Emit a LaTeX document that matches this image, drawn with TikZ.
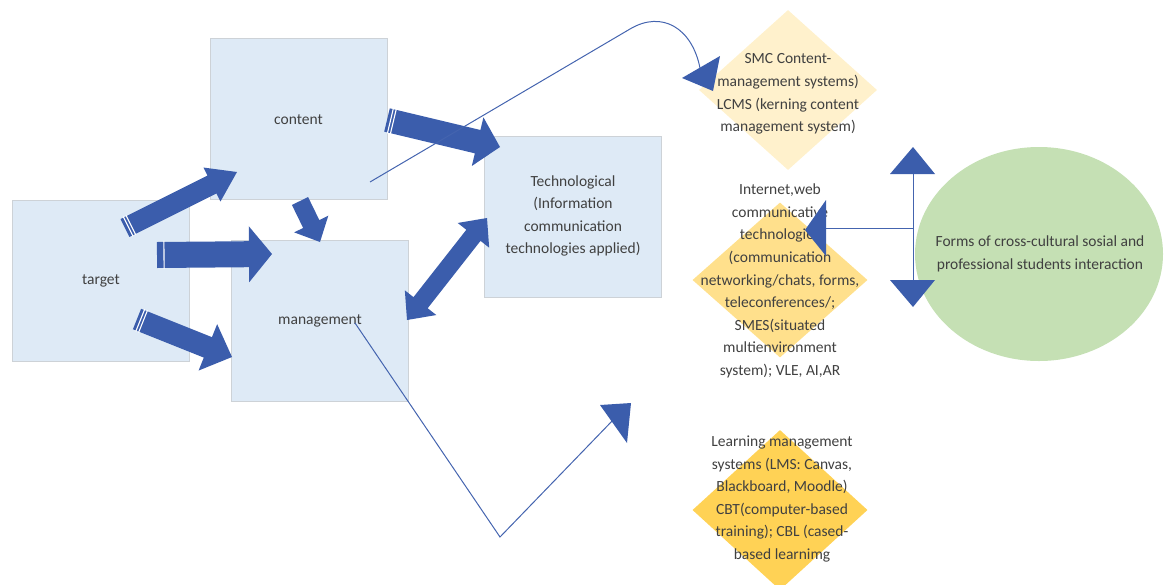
\documentclass[tikz,border=0pt]{standalone}
\usepackage{fontspec}
\setmainfont{Carlito}
\usetikzlibrary{calc,shapes.geometric}
\definecolor{arrowblue}{RGB}{59,93,172}
\definecolor{boxfill}{RGB}{222,234,246}
\definecolor{boxline}{RGB}{205,210,215}
\definecolor{linecol}{RGB}{68,100,175}
\definecolor{diaA}{RGB}{255,241,204}
\definecolor{diaB}{RGB}{255,224,140}
\definecolor{diaC}{RGB}{255,210,85}
\definecolor{ellfill}{RGB}{197,224,180}
\definecolor{txt}{RGB}{64,64,64}
% block arrow: start, end, shaft half width, head half width, head length
\newcommand{\blockarr}[5]{%
  \coordinate (ba-s) at (#1);
  \coordinate (ba-e) at (#2);
  \coordinate (ba-h) at ($(ba-e)!#5!(ba-s)$);
  \fill[arrowblue] ($(ba-s)!#3!90:(ba-e)$) -- ($(ba-h)!#3!-90:(ba-s)$) -- ($(ba-h)!#4!-90:(ba-s)$)
    -- (ba-e) -- ($(ba-h)!#4!90:(ba-s)$) -- ($(ba-h)!#3!90:(ba-s)$) -- ($(ba-s)!#3!-90:(ba-e)$) -- cycle;
}
% stripe across the tail: start, end, half width, distance
\newcommand{\tailstripe}[4]{%
  \coordinate (ts-s) at (#1);
  \coordinate (ts-e) at (#2);
  \coordinate (ts-m) at ($(ts-s)!#4!(ts-e)$);
  \draw[white, line width=1.1pt] ($(ts-m)!#3+1pt!90:(ts-e)$) -- ($(ts-m)!#3+1pt!-90:(ts-e)$);
}
% double block arrow
\newcommand{\dblockarr}[5]{%
  \coordinate (da-s) at (#1);
  \coordinate (da-e) at (#2);
  \coordinate (da-h1) at ($(da-s)!#5!(da-e)$);
  \coordinate (da-h2) at ($(da-e)!#5!(da-s)$);
  \fill[arrowblue] (da-s) -- ($(da-h1)!#4!90:(da-e)$) -- ($(da-h1)!#3!90:(da-e)$)
    -- ($(da-h2)!#3!-90:(da-s)$) -- ($(da-h2)!#4!-90:(da-s)$) -- (da-e)
    -- ($(da-h2)!#4!90:(da-s)$) -- ($(da-h2)!#3!90:(da-s)$)
    -- ($(da-h1)!#3!-90:(da-e)$) -- ($(da-h1)!#4!-90:(da-e)$) -- cycle;
}
\begin{document}
\begin{tikzpicture}[x=1pt,y=-1pt,
  box/.style={draw=boxline, line width=0.6pt, fill=boxfill, minimum width=177pt, minimum height=161pt, inner sep=0pt},
  lbl/.style={text=txt, font=\fontsize{15.5}{22.6}\selectfont, align=center, inner sep=0pt},
  dia/.style={diamond, draw=none, inner sep=0pt},
  thin/.style={draw=linecol, line width=1pt},
  headfill/.style={fill=arrowblue}]
\useasboundingbox (0,0) rectangle (1164,584);
\clip (0,0) rectangle (1164,584);

% boxes
\node[box] (target) at (101,280.5) {};
\node[lbl] (targettxt) at (101,281) {target};
\node[box] (content) at (298.5,119) {};
\node[lbl] (contenttxt) at (298.5,120) {content};
\node[box] (management) at (320,321) {};
\node[lbl] (managementtxt) at (320,321) {management};
\node[box] (tech) at (573,216.5) {};
\node[lbl] (techtxt) at (573,216) {Technological\\(Information\\communication\\technologies applied)};

% diamonds
\node[dia, fill=diaA, minimum width=178pt, minimum height=160pt] (lcms) at (788,90) {};
\node[lbl] (lcmstxt) at (788,94) {SMC Content-\\management systems)\\LCMS (kerning content\\management system)};
\node[dia, fill=diaB, minimum width=175pt, minimum height=155pt] (web) at (780,280) {};
\node[lbl] (webtxt) at (780,281) {Internet,web\\communicative\\technologies\\(communication\\networking/chats, forms,\\teleconferences/;\\SMES(situated\\multienvironment\\system); VLE, AI,AR};
\node[dia, fill=diaC, minimum width=175pt, minimum height=160pt] (lms) at (780,510) {};
\node[lbl] (lmstxt) at (782,499) {Learning management\\systems (LMS: Canvas,\\Blackboard, Moodle)\\CBT(computer-based\\training); CBL (cased-\\based learnimg};

% ellipse
\node[ellipse, fill=ellfill, minimum width=248pt, minimum height=214pt, inner sep=0pt] (forms) at (1039,254) {};
\node[lbl] (formstxt) at (1040,254) {Forms of cross-cultural sosial and\\professional students interaction};

% block arrow end points
\coordinate (a1s) at (125,228); \coordinate (a1e) at (237,172);
\coordinate (a2s) at (157,255); \coordinate (a2e) at (272,254);
\coordinate (a3s) at (137,319); \coordinate (a3e) at (232,357);
\coordinate (a4s) at (300,201); \coordinate (a4e) at (320,242);
\coordinate (a5s) at (387,120); \coordinate (a5e) at (500,147);
\coordinate (a6s) at (407,320); \coordinate (a6e) at (487,218);

\blockarr{a1s}{a1e}{10pt}{19pt}{28pt}
\tailstripe{a1s}{a1e}{10pt}{3.5pt}
\tailstripe{a1s}{a1e}{10pt}{6.5pt}
\blockarr{a2s}{a2e}{13pt}{28pt}{23pt}
\tailstripe{a2s}{a2e}{13pt}{7pt}
\blockarr{a3s}{a3e}{11pt}{25pt}{26pt}
\tailstripe{a3s}{a3e}{11pt}{3.5pt}
\tailstripe{a3s}{a3e}{11pt}{6.5pt}
\blockarr{a4s}{a4e}{9pt}{19pt}{20pt}
\blockarr{a5s}{a5e}{12pt}{25pt}{23pt}
\tailstripe{a5s}{a5e}{12pt}{3.5pt}
\tailstripe{a5s}{a5e}{12pt}{6.5pt}
\dblockarr{a6s}{a6e}{9pt}{20pt}{22pt}

% thin connector content -> LCMS
\coordinate (c1s) at (370,182);
\coordinate (c1e) at (700,68);
\draw[thin] (c1s) -- (630,29) .. controls (662,10) and (692,28) .. (c1e);
\coordinate (h1) at (682,78);
\fill[headfill] (h1) -- (720,56) -- (713,91) -- cycle;

% thin connector management -> lower
\coordinate (c2s) at (355,323);
\coordinate (c2m) at (500,537);
\coordinate (c2e) at (614,419);
\draw[thin] (c2s) -- (c2m) -- (c2e);
\fill[headfill] (631,403) -- (600,405) -- (627,443) -- cycle;

% forms -> web technologies
\coordinate (v1) at (913,174);
\coordinate (v2) at (913,280);
\coordinate (vm) at (913,228);
\coordinate (wh) at (825,228);
\draw[thin] (v1) -- (v2);
\draw[thin] (vm) -- (wh);
\fill[headfill] (913,147) -- (890,174) -- (935,174) -- cycle;
\fill[headfill] (913,307) -- (890,280) -- (935,280) -- cycle;
\fill[headfill] (805,230) -- (826,200) -- (826,256) -- cycle;
\end{tikzpicture}
\end{document}
